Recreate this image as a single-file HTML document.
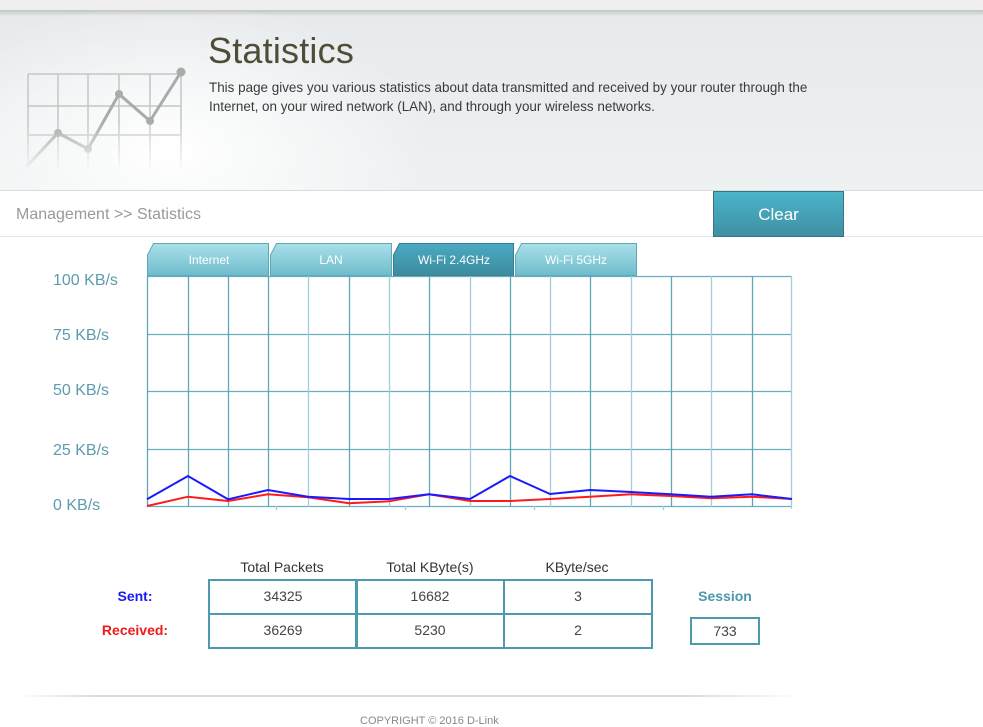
<!DOCTYPE html>
<html><head><meta charset="utf-8">
<style>
*{margin:0;padding:0;box-sizing:border-box}
html,body{width:983px;height:720px;overflow:hidden;background:#fff;font-family:"Liberation Sans",Arial,sans-serif}
#top{position:absolute;left:0;top:0;width:983px;height:11px;background:#efefef}
#hdr{position:absolute;left:0;top:10px;width:983px;height:181px;
 background:radial-gradient(ellipse 260px 150px at 170px 140px,#ffffff 0%,rgba(255,255,255,0.6) 40%,rgba(255,255,255,0) 100%),linear-gradient(#e6eaec,#eef1f2);
 border-bottom:1px solid #d8dcdd}
#hdr:before{content:"";position:absolute;left:0;top:0;width:983px;height:6px;background:linear-gradient(rgba(150,150,150,0.45),rgba(150,150,150,0))}
#title{position:absolute;left:208px;top:30px;font-size:36px;color:#4f4d37;letter-spacing:0.2px}
#desc{position:absolute;left:209px;top:78px;font-size:13.45px;line-height:19px;color:#3a3a3a;width:620px}
#crumb{position:absolute;left:16px;top:206px;font-size:16px;color:#9a9a9a}
#crumbline{position:absolute;left:0;top:236px;width:983px;height:1px;background:#e6e6e6}
#clear{position:absolute;left:713px;top:191px;width:131px;height:46px;background:linear-gradient(#4cb4c9,#3f90a3);border:1px solid #3a7482;color:#fff;font-size:17px;text-align:center;line-height:46px}
.yl{position:absolute;left:53px;font-size:16px;color:#5c9cae}
.th{position:absolute;top:559px;font-size:14px;color:#333;text-align:center;width:148px}
.c{position:absolute;border:2px solid #4c9bad;text-align:center;font-size:14px;color:#444;line-height:30px}
.lab{position:absolute;font-size:14px;font-weight:bold;text-align:center;width:120px;left:75px}
#sess{position:absolute;left:665px;top:588px;width:120px;text-align:center;font-size:14px;font-weight:bold;color:#4a98aa}
#sbox{position:absolute;left:690px;top:617px;width:70px;height:28px;border:2px solid #4c9bad;text-align:center;font-size:14px;color:#444;line-height:24px}
#fline{position:absolute;left:15px;top:695px;width:790px;height:2px;background:linear-gradient(90deg,rgba(220,220,220,0),#dcdcdc 10%,#dcdcdc 85%,rgba(220,220,220,0))}
#copy{position:absolute;left:360px;top:715px;font-size:11px;color:#888}
</style></head><body>
<div id="top"></div>
<div id="hdr"></div>
<svg style="position:absolute;left:0;top:0" width="983" height="720">
 <defs>
  <linearGradient id="fade" x1="0" y1="0" x2="0" y2="1">
   <stop offset="0" stop-color="#fff" stop-opacity="1"/>
   <stop offset="0.55" stop-color="#fff" stop-opacity="1"/>
   <stop offset="1" stop-color="#fff" stop-opacity="0"/>
  </linearGradient>
  <mask id="m"><rect x="0" y="60" width="200" height="112" fill="url(#fade)"/></mask>
 </defs>
 <g mask="url(#m)">
  <g stroke="#c4c6c6" stroke-width="1.5" fill="none">
   <line x1="28" y1="74" x2="181" y2="74"/><line x1="28" y1="106" x2="181" y2="106"/><line x1="28" y1="135" x2="181" y2="135"/>
   <line x1="28" y1="74" x2="28" y2="168"/><line x1="58" y1="74" x2="58" y2="168"/><line x1="88" y1="74" x2="88" y2="168"/>
   <line x1="119" y1="74" x2="119" y2="168"/><line x1="150" y1="74" x2="150" y2="168"/><line x1="181" y1="74" x2="181" y2="168"/>
  </g>
  <polyline points="27,166 58,133 88,149 119,94 150,121 181,72" fill="none" stroke="#a9abab" stroke-width="3"/>
  <g fill="#a9abab"><circle cx="58" cy="133" r="4"/><circle cx="88" cy="149" r="4"/><circle cx="119" cy="94" r="4"/><circle cx="150" cy="121" r="4"/><circle cx="181" cy="72" r="4.5"/></g>
 </g>
</svg>
<div id="title">Statistics</div>
<div id="desc">This page gives you various statistics about data transmitted and received by your router through the Internet, on your wired network (LAN), and through your wireless networks.</div>
<div id="crumb">Management &gt;&gt; Statistics</div>
<div id="crumbline"></div>
<div id="clear">Clear</div>

<div class="yl" style="top:272px">100 KB/s</div>
<div class="yl" style="top:327px">75 KB/s</div>
<div class="yl" style="top:382px">50 KB/s</div>
<div class="yl" style="top:442px">25 KB/s</div>
<div class="yl" style="top:497px">0 KB/s</div>

<svg style="position:absolute;left:0;top:0" width="983" height="720">
 <defs>
  <linearGradient id="tabi" x1="0" y1="0" x2="0" y2="1"><stop offset="0" stop-color="#a9e0ea"/><stop offset="1" stop-color="#6fbccb"/></linearGradient>
  <linearGradient id="taba" x1="0" y1="0" x2="0" y2="1"><stop offset="0" stop-color="#4aaac2"/><stop offset="1" stop-color="#3c8c9f"/></linearGradient>
 </defs>
 <g stroke="#5ea9b9" stroke-width="1">
  <path d="M147.5,275.5 V255 L153.5,243.5 H268.5 V275.5 Z" fill="url(#tabi)"/>
  <path d="M270.5,275.5 V255 L276.5,243.5 H391.5 V275.5 Z" fill="url(#tabi)"/>
  <path d="M393.5,275.5 V255 L399.5,243.5 H513.5 V275.5 Z" fill="url(#taba)" stroke="#3a7b8b"/>
  <path d="M515.5,275.5 V255 L521.5,243.5 H636.5 V275.5 Z" fill="url(#tabi)"/>
 </g>
 <g font-family="Liberation Sans, Arial, sans-serif" font-size="12" fill="#fff" text-anchor="middle">
  <text x="209" y="264">Internet</text>
  <text x="331" y="264">LAN</text>
  <text x="454" y="264">Wi-Fi 2.4GHz</text>
  <text x="576" y="264">Wi-Fi 5GHz</text>
 </g>
 <g stroke-width="1.3" fill="none">
  <g stroke="#6aaebe">
   <line x1="147" y1="276.5" x2="792" y2="276.5"/>
   <line x1="147" y1="334.5" x2="792" y2="334.5"/>
   <line x1="147" y1="391.5" x2="792" y2="391.5"/>
   <line x1="147" y1="449.5" x2="792" y2="449.5"/>
   <line x1="147" y1="506.5" x2="792" y2="506.5"/>
  </g>
  <g stroke="#5fa7b8">
   <line x1="147.5" y1="276" x2="147.5" y2="507"/>
   <line x1="188.5" y1="276" x2="188.5" y2="507"/>
   <line x1="228.5" y1="276" x2="228.5" y2="507"/>
   <line x1="268.5" y1="276" x2="268.5" y2="507"/>
   <line x1="349.5" y1="276" x2="349.5" y2="507"/>
   <line x1="429.5" y1="276" x2="429.5" y2="507"/>
   <line x1="510.5" y1="276" x2="510.5" y2="507"/>
   <line x1="590.5" y1="276" x2="590.5" y2="507"/>
   <line x1="671.5" y1="276" x2="671.5" y2="507"/>
   <line x1="752.5" y1="276" x2="752.5" y2="507"/>
  </g>
  <g stroke="#9fcfda">
   <line x1="308.5" y1="276" x2="308.5" y2="507"/>
   <line x1="389.5" y1="276" x2="389.5" y2="507"/>
   <line x1="470.5" y1="276" x2="470.5" y2="507"/>
   <line x1="550.5" y1="276" x2="550.5" y2="507"/>
   <line x1="631.5" y1="276" x2="631.5" y2="507"/>
   <line x1="711.5" y1="276" x2="711.5" y2="507"/>
   <line x1="791.5" y1="276" x2="791.5" y2="509"/>
  </g>
  <g stroke="#9fcfda">
   <line x1="276.5" y1="506" x2="276.5" y2="510"/>
   <line x1="405.5" y1="506" x2="405.5" y2="510"/>
   <line x1="534.5" y1="506" x2="534.5" y2="510"/>
   <line x1="663.5" y1="506" x2="663.5" y2="510"/>
  </g>
 </g>
 <polyline fill="none" stroke="#ff1a1a" stroke-width="2" points="147,506 188,496.7 228,501 268,494.3 308,497.3 349,503.3 389,501.3 429,494.3 470,501 510,501 550,499 590,496.7 631,494.3 671,496 711,498.3 752,496.7 792,499"/>
 <polyline fill="none" stroke="#1a1aff" stroke-width="2" points="147,499.3 188,476 228,499.3 268,490 308,496.7 349,499 389,499 429,494.3 470,499 510,476 550,494 590,490 631,492 671,494.3 711,496.7 752,494.3 792,499"/>
</svg>

<div class="th" style="left:208px">Total Packets</div>
<div class="th" style="left:356px">Total KByte(s)</div>
<div class="th" style="left:503px">KByte/sec</div>

<div class="c" style="left:208px;top:579px;width:150px;height:36px">34325</div>
<div class="c" style="left:355px;top:579px;width:150px;height:36px">16682</div>
<div class="c" style="left:503px;top:579px;width:150px;height:36px">3</div>
<div class="c" style="left:208px;top:613px;width:150px;height:36px">36269</div>
<div class="c" style="left:355px;top:613px;width:150px;height:36px">5230</div>
<div class="c" style="left:503px;top:613px;width:150px;height:36px">2</div>

<div class="lab" style="top:588px;color:#1a1aee">Sent:</div>
<div class="lab" style="top:622px;color:#ee1a1a">Received:</div>
<div id="sess">Session</div>
<div id="sbox">733</div>
<div id="fline"></div>
<div id="copy">COPYRIGHT © 2016 D-Link</div>
</body></html>
